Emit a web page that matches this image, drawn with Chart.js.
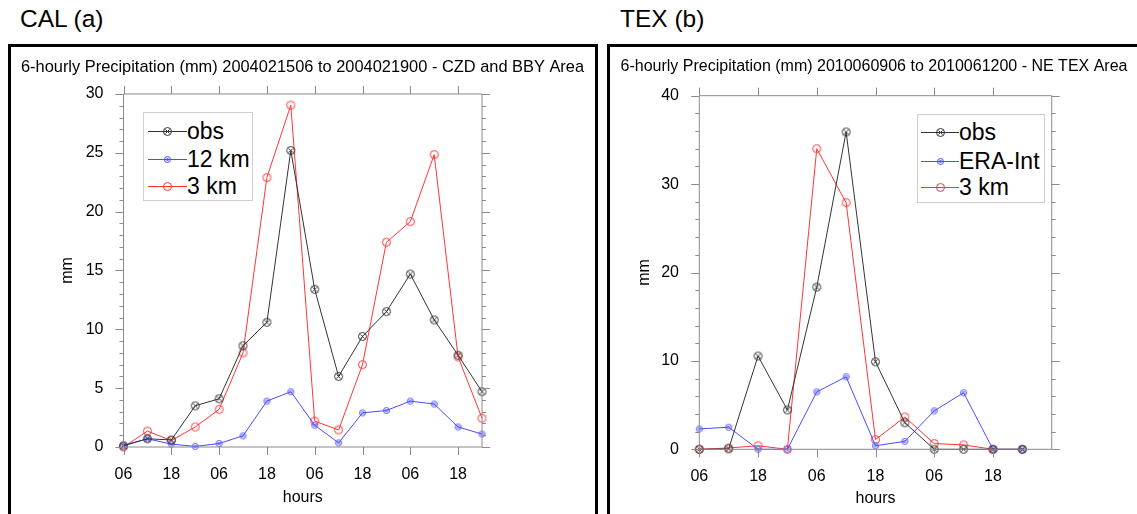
<!DOCTYPE html>
<html>
<head>
<meta charset="utf-8">
<script src="https://cdn.jsdelivr.net/npm/chart.js@4.4.1/dist/chart.umd.min.js"></script>
<style>
    body { margin: 0; width: 1137px; height: 514px; overflow: hidden; background: #fff; font-family: "Liberation Sans", Arial, sans-serif; position: relative; }
    .panel-title { position: absolute; top: 5px; font-size: 24.5px; line-height: 27px; color: #000; }
    .panel { position: absolute; top: 44px; height: 500px; border: 3px solid #000; box-sizing: border-box; }
    canvas { position: absolute; }
    .legend { position: absolute; border: 1px solid #cfcfcf; background: #fff; box-sizing: border-box; }
    .legend .row { position: absolute; left: 0; height: 28px; line-height: 28px; font-size: 23px; white-space: nowrap; }
    .legend .sample { position: absolute; top: 14px; height: 1px; }
    .legend .sample canvas { position: absolute; }
    .legend .text { position: absolute; top: 0; }
</style>
</head>
<body>

<div class="panel-title" style="left:20px;">CAL (a)</div>
<div class="panel-title" style="left:620px;">TEX (b)</div>
<div class="panel" style="left:8px; width:590px;"></div>
<div class="panel" style="left:607px; width:600px; border-right:none;"></div>

<canvas id="calChart" width="583" height="467" style="left:11px; top:47px;"></canvas>
<canvas id="texChart" width="526" height="467" style="left:611px; top:47px;"></canvas>

<div class="legend" id="calLegend" style="left:143px; top:112px; width:110px; height:89px;"></div>
<div class="legend" id="texLegend" style="left:917px; top:114px; width:128px; height:89px;"></div>

<script>
// --- DATA ---
const calHours = ['06','12','18','00','06','12','18','00','06','12','18','00','06','12','18','00'];
const calObs   = [0.1, 0.7, 0.6, 3.5, 4.1, 8.6, 10.6, 25.2, 13.4, 6.0, 9.4, 11.5, 14.7, 10.8, 7.8, 4.7];
const cal12km  = [0.15, 0.7, 0.25, 0.05, 0.3, 0.95, 3.9, 4.7, 1.85, 0.35, 2.9, 3.1, 3.9, 3.65, 1.7, 1.1];
const cal3km   = [0.0, 1.35, 0.55, 1.7, 3.2, 8.0, 22.9, 29.05, 2.2, 1.45, 7.0, 17.4, 19.15, 24.85, 7.65, 2.45];

const texHours = ['06','12','18','00','06','12','18','00','06','12','18','00','06'];
const texObs   = [0, 0.05, 10.55, 4.45, 18.35, 35.9, 9.9, 3.0, 0, 0, 0, 0];
const texEra   = [2.3, 2.5, 0, 0, 6.5, 8.2, 0.4, 0.9, 4.35, 6.4, 0, 0];
const tex3km   = [0, 0.15, 0.4, 0, 34.0, 27.9, 1.1, 3.65, 0.65, 0.5, 0, 0];

const calTitle = '6-hourly Precipitation (mm) 2004021506 to 2004021900 - CZD and BBY Area';
const texTitle = '6-hourly Precipitation (mm) 2010060906 to 2010061200 - NE TEX Area';

// --- STYLE ---
const FONT = '"Liberation Sans", Arial, sans-serif';
const AXIS_GREY = '#8a8a8a';
const COLORS = { obs: '#333333', blue: '#4b4bff', red: '#ff3535' };

Chart.defaults.font.family = FONT;
Chart.defaults.color = '#000';

// small marker images (NCL-like)
function makeMarker(kind, color) {
    const c = document.createElement('canvas');
    c.width = c.height = 11;
    const g = c.getContext('2d');
    g.strokeStyle = color;
    g.lineWidth = 1;
    const m = 5.5;
    g.beginPath();
    g.arc(m, m, kind === 'small' ? 3 : 4, 0, Math.PI * 2);
    g.stroke();
    if (kind === 'cross') {
        g.beginPath();
        g.moveTo(m - 2, m - 2); g.lineTo(m + 2, m + 2);
        g.moveTo(m + 2, m - 2); g.lineTo(m - 2, m + 2);
        g.stroke();
    } else if (kind === 'small') {
        g.beginPath();
        g.moveTo(m, m - 1.5); g.lineTo(m + 1.5, m); g.lineTo(m, m + 1.5); g.lineTo(m - 1.5, m); g.closePath();
        g.stroke();
    }
    return c;
}

// frame + outward ticks on all four sides (major and minor on y)
const frameTicks = {
    id: 'frameTicks',
    afterDatasetsDraw(chart, args, opts) {
        const { ctx, chartArea: a, scales: { x, y } } = chart;
        ctx.save();
        ctx.strokeStyle = AXIS_GREY;
        ctx.lineWidth = 1;
        ctx.beginPath();
        ctx.rect(a.left, a.top, a.right - a.left, a.bottom - a.top);
        for (let v = y.min; v <= y.max + 1e-6; v += opts.minor) {
            const py = Math.round(y.getPixelForValue(v)) + 0.5;
            const len = (Math.abs(v % opts.major) < 1e-6) ? 8 : 4;
            ctx.moveTo(a.left - len, py); ctx.lineTo(a.left, py);
            ctx.moveTo(a.right, py); ctx.lineTo(a.right + len, py);
        }
        for (let i = 0; i < opts.n; i += 2) {
            const px = Math.round(x.getPixelForValue(i)) + 0.5;
            ctx.moveTo(px, a.top - 8); ctx.lineTo(px, a.top);
            ctx.moveTo(px, a.bottom); ctx.lineTo(px, a.bottom + 8);
        }
        ctx.stroke();
        ctx.restore();
    }
};

function makeDataset(label, data, color, marker) {
    return {
        label, data,
        borderColor: color,
        borderWidth: 1,
        pointStyle: makeMarker(marker, color),
        pointRadius: 4,
        tension: 0,
        clip: false
    };
}

function buildChart(id, hours, datasets, title, lay) {
    const nData = datasets[0].data.length;
    return new Chart(document.getElementById(id), {
        type: 'line',
        data: { labels: hours, datasets },
        options: {
            responsive: false,
            animation: false,
            events: [],
            layout: { padding: { left: lay.pad, right: lay.pad, top: 0, bottom: 0 } },
            plugins: {
                legend: { display: false },
                tooltip: { enabled: false },
                title: {
                    display: true,
                    text: title,
                    font: { size: lay.titleSize, weight: 'normal' },
                    color: '#000',
                    padding: { top: lay.titleTop, bottom: lay.titleBottom }
                },
                frameTicks: { minor: lay.minor, major: lay.major, n: nData }
            },
            scales: {
                x: {
                    type: 'category',
                    offset: false,
                    grid: { display: false, drawTicks: false },
                    border: { display: false },
                    ticks: {
                        autoSkip: false,
                        maxRotation: 0,
                        padding: lay.xTickPad,
                        font: { size: 16 },
                        callback: function (val, idx) {
                            return (idx % 2 === 0 && idx < nData) ? this.getLabelForValue(val) : '';
                        }
                    },
                    title: { display: true, text: 'hours', font: { size: 16 }, padding: { top: 0, bottom: lay.hoursPad } },
                    afterFit: s => { s.height = lay.xH; }
                },
                y: {
                    min: 0, max: lay.yMax,
                    grid: { display: false, drawTicks: false },
                    border: { display: false },
                    ticks: { stepSize: lay.major, padding: lay.yTickPad, font: { size: 16 } },
                    title: { display: true, text: 'mm', font: { size: 16 }, padding: { top: lay.mmPad, bottom: 0 } },
                    afterFit: s => { s.width = lay.yW; }
                },
                pad: {
                    type: 'linear', axis: 'y', position: 'right',
                    grid: { display: false, drawTicks: false },
                    border: { display: false },
                    ticks: { display: false },
                    afterFit: s => { s.width = lay.y2W; }
                }
            }
        },
        plugins: [frameTicks]
    });
}

buildChart('calChart', calHours, [
    makeDataset('obs', calObs, COLORS.obs, 'cross'),
    makeDataset('12 km', cal12km, COLORS.blue, 'small'),
    makeDataset('3 km', cal3km, COLORS.red, 'circle')
], calTitle, {
    pad: 5, yW: 107.5, y2W: 107, titleSize: 16.4, titleTop: 10.2, titleBottom: 17.1, xH: 67,
    mmPad: 42.4, hoursPad: 7, yTickPad: 20, xTickPad: 18,
    yMax: 30, major: 5, minor: 1
});

buildChart('texChart', texHours, [
    makeDataset('obs', texObs, COLORS.obs, 'cross'),
    makeDataset('ERA-Int', texEra, COLORS.blue, 'small'),
    makeDataset('3 km', tex3km, COLORS.red, 'circle')
], texTitle, {
    pad: 3, yW: 85.3, y2W: 82.3, titleSize: 16, titleTop: 10.4, titleBottom: 19.1, xH: 64.7,
    mmPad: 21.4, hoursPad: 6, yTickPad: 20.3, xTickPad: 18,
    yMax: 40, major: 10, minor: 2
});

// --- HTML legends inside the plot ---
function renderLegend(id, items, rows, lineLeft, lineWidth, textLeft) {
    const box = document.getElementById(id);
    box.innerHTML = '';
    items.forEach((it, i) => {
        const row = document.createElement('div');
        row.className = 'row';
        row.style.top = (rows[i] - 14) + 'px';
        row.style.width = '100%';
        const sample = document.createElement('div');
        sample.className = 'sample';
        sample.style.left = lineLeft + 'px';
        sample.style.width = lineWidth + 'px';
        sample.style.background = it.color;
        const mk = makeMarker(it.marker, it.color);
        mk.style.left = (lineWidth / 2 - 5.5) + 'px';
        mk.style.top = '-5px';
        sample.appendChild(mk);
        const txt = document.createElement('span');
        txt.className = 'text';
        txt.style.left = textLeft + 'px';
        txt.textContent = it.label;
        row.appendChild(sample);
        row.appendChild(txt);
        box.appendChild(row);
    });
}

renderLegend('calLegend', [
    { label: 'obs', color: COLORS.obs, marker: 'cross' },
    { label: '12 km', color: COLORS.blue, marker: 'small' },
    { label: '3 km', color: COLORS.red, marker: 'circle' }
], [18, 46, 73], 4, 39, 43);

renderLegend('texLegend', [
    { label: 'obs', color: COLORS.obs, marker: 'cross' },
    { label: 'ERA-Int', color: COLORS.blue, marker: 'small' },
    { label: '3 km', color: COLORS.red, marker: 'circle' }
], [17, 46, 72], 3, 38, 41);
</script>
</body>
</html>
